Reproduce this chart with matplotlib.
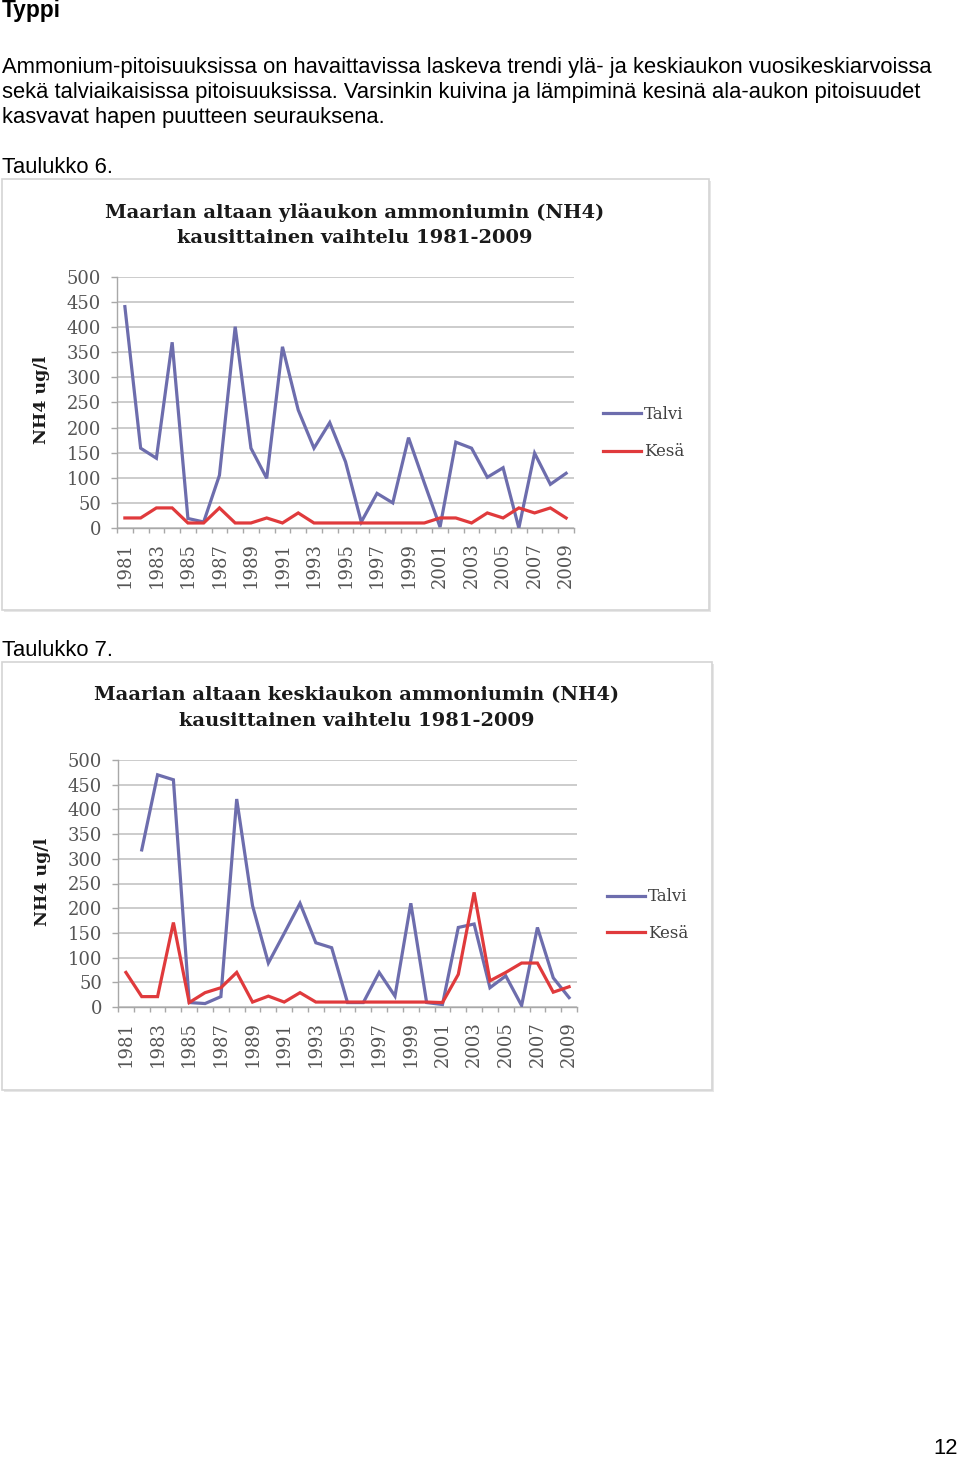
import numpy as np
import matplotlib
matplotlib.use("Agg")
import matplotlib.pyplot as plt
from matplotlib.patches import Rectangle
from matplotlib.ticker import FixedLocator

# ---------------- data ----------------
years = list(range(1981, 2010))
label_years = list(range(1981, 2010, 2))
y_ticks = list(range(0, 501, 50))

# Taulukko 6 (yläaukko)
upper_talvi = [441, 159, 139, 370, 19, 12, 105, 401, 159, 99, 361, 235, 159, 210,
               132, 12, 69, 50, 180, 90, 2, 171, 159, 101, 120, 0, 149, 87, 109]
upper_kesa = [20, 20, 40, 40, 10, 10, 40, 10, 10, 20, 10, 30, 10, 10,
              10, 10, 10, 10, 10, 10, 20, 20, 10, 30, 20, 40, 30, 40, 20]

# Taulukko 7 (keskiaukko)
middle_talvi = [np.nan, 318, 470, 460, 9, 7, 21, 421, 205, 89, 149, 210, 130, 120,
                9, 9, 70, 22, 210, 9, 5, 161, 168, 39, 63, 3, 161, 59, 19]
middle_kesa = [70, 21, 21, 171, 9, 29, 39, 70, 10, 22, 10, 29, 10, 10,
               10, 10, 10, 10, 10, 10, 9, 66, 232, 53, 70, 89, 89, 30, 41]

series_names = ["Talvi", "Kesä"]
titles = ["Maarian altaan yläaukon ammoniumin (NH4)\nkausittainen vaihtelu 1981-2009",
          "Maarian altaan keskiaukon ammoniumin (NH4)\nkausittainen vaihtelu 1981-2009"]
y_label = "NH4 ug/l"

heading = "Typpi"
body_lines = [
    "Ammonium-pitoisuuksissa on havaittavissa laskeva trendi ylä- ja keskiaukon vuosikeskiarvoissa",
    "sekä talviaikaisissa pitoisuuksissa. Varsinkin kuivina ja lämpiminä kesinä ala-aukon pitoisuudet",
    "kasvavat hapen puutteen seurauksena.",
]
captions = ["Taulukko 6.", "Taulukko 7."]
page_no = "12"

# ---------------- styling ----------------
W, H = 960, 1457
C_TALVI = "#6d6dad"
C_KESA = "#e03a3c"
GRID = "#c8c8c8"
SANS = ["Liberation Sans", "DejaVu Sans"]
SERIF = ["DejaVu Serif"]
BODY = 15.8

fig = plt.figure(figsize=(W / 100, H / 100), dpi=100)
fig.patch.set_facecolor("white")


def fx(x):
    return x / W


def fy(y):
    return 1 - y / H


# page text
fig.text(fx(2), fy(17.5), heading, fontsize=16.3, fontweight="bold", family=SANS,
         ha="left", va="baseline", color="black")
for i, line in enumerate(body_lines):
    fig.text(fx(2), fy(73 + 25 * i), line, fontsize=BODY, family=SANS,
             ha="left", va="baseline", color="black")
fig.text(fx(2), fy(173), captions[0], fontsize=BODY, family=SANS, ha="left", va="baseline")
fig.text(fx(2), fy(656), captions[1], fontsize=BODY, family=SANS, ha="left", va="baseline")
fig.text(fx(958), fy(1454), page_no, fontsize=BODY, family=SANS, ha="right", va="baseline")

charts = [
    dict(box=(2, 179, 709, 610), ax=(117, 277, 574, 528), title_xy=(355, 225),
         ylab=(50, 400), leg=(603, 433), spacing=1.25,
         talvi=upper_talvi, kesa=upper_kesa, title=titles[0]),
    dict(box=(2, 662, 712, 1090), ax=(118, 760, 577, 1007), title_xy=(357, 708),
         ylab=(51, 882), leg=(607, 915), spacing=1.15,
         talvi=middle_talvi, kesa=middle_kesa, title=titles[1]),
]

for ch in charts:
    x0, y0, x1, y1 = ch["box"]
    # shadow + frame
    fig.patches.append(Rectangle((fx(x0 + 2), fy(y1 + 2)), fx(x1 - x0), (y1 - y0) / H,
                                 transform=fig.transFigure, facecolor="#e6e6e6",
                                 edgecolor="none", zorder=-3))
    fig.patches.append(Rectangle((fx(x0), fy(y1)), fx(x1 - x0), (y1 - y0) / H,
                                 transform=fig.transFigure, facecolor="white",
                                 edgecolor="#d4d4d4", lw=1.2, zorder=-2))

    ax0, ay0, ax1, ay1 = ch["ax"]
    ax = fig.add_axes([fx(ax0), fy(ay1), fx(ax1 - ax0), (ay1 - ay0) / H])
    ax.set_facecolor("none")
    ax.plot(years, ch["talvi"], color=C_TALVI, lw=2.3, label=series_names[0],
            solid_joinstyle="miter", zorder=3)
    ax.plot(years, ch["kesa"], color=C_KESA, lw=2.3, label=series_names[1],
            solid_joinstyle="miter", zorder=3)
    ax.set_xlim(years[0] - 0.5, years[-1] + 0.5)
    ax.set_ylim(0, 500)
    ax.yaxis.set_major_locator(FixedLocator(y_ticks))
    ax.grid(axis="y", color=GRID, lw=1.3, zorder=0)
    ax.set_axisbelow(True)
    ax.xaxis.set_major_locator(FixedLocator(label_years))
    ax.xaxis.set_minor_locator(FixedLocator([y - 0.5 for y in years] + [years[-1] + 0.5]))
    ax.set_xticklabels([str(y) for y in label_years], rotation=90)
    for s in ["top", "right"]:
        ax.spines[s].set_visible(False)
    for s in ["left", "bottom"]:
        ax.spines[s].set_color("#a8a8a8")
        ax.spines[s].set_linewidth(1.0)
    ax.tick_params(axis="y", length=4.5, width=1, color="#a8a8a8", pad=7,
                   labelsize=13, labelcolor="#555555")
    ax.tick_params(axis="x", which="major", length=0, pad=10,
                   labelsize=13, labelcolor="#555555")
    ax.tick_params(axis="x", which="minor", length=3.5, width=1, color="#a8a8a8")
    for lab in ax.get_xticklabels() + ax.get_yticklabels():
        lab.set_family(SERIF)

    fig.text(fx(ch["title_xy"][0]), fy(ch["title_xy"][1]), ch["title"], family=SERIF,
             fontsize=14.0, fontweight="bold", ha="center", va="center",
             linespacing=1.55, color="#1a1a1a")
    ax.set_ylabel(y_label, family=SERIF, fontsize=12.5, fontweight="bold", color="#1a1a1a")
    ax.yaxis.set_label_coords((ch["ylab"][0] - ax0) / (ax1 - ax0),
                              (ay1 - ch["ylab"][1]) / (ay1 - ay0))

    leg = ax.legend(loc="center left", bbox_to_anchor=(fx(ch["leg"][0]), fy(ch["leg"][1])),
                    bbox_transform=fig.transFigure, frameon=False, borderpad=0,
                    borderaxespad=0, handlelength=2.3, handletextpad=0.15,
                    labelspacing=ch["spacing"], prop={"family": SERIF, "size": 12})
    for t in leg.get_texts():
        t.set_color("#404040")

fig.savefig("out.png", dpi=100, facecolor="white")
